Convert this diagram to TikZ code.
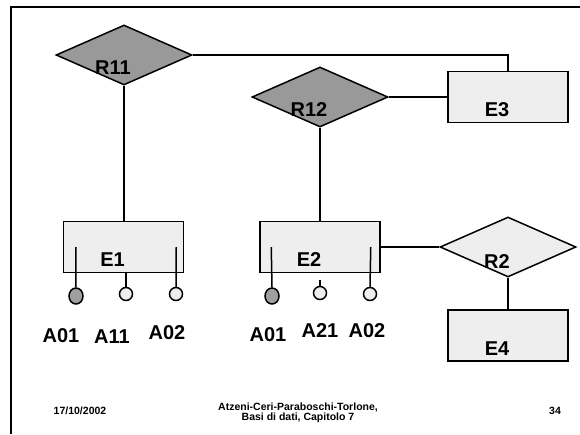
\documentclass[tikz,border=0pt]{standalone}
\usepackage{fontspec}
\setmainfont{Liberation Sans}
\usetikzlibrary{shapes.geometric}

\begin{document}
\begin{tikzpicture}[x=1pt, y=-1pt, line width=1.5pt,
    rel/.style={diamond, draw, minimum width=136pt, minimum height=60pt, inner sep=0pt},
    ent/.style={draw, fill=gray!13, minimum width=120pt, minimum height=51pt, inner sep=0pt},
    tag/.style={font=\fontsize{20}{20}\selectfont\bfseries, xshift=-11pt, yshift=-13pt},
    attr/.style={font=\fontsize{20}{20}\selectfont\bfseries},
    key/.style={ellipse, draw, fill=gray!75, minimum width=14pt, minimum height=16pt, inner sep=0pt},
    opt/.style={circle, draw, fill=gray!13, minimum size=13pt, inner sep=0pt},
    foot/.style={font=\fontsize{10.5}{10}\selectfont\bfseries, align=center}]
  \useasboundingbox (0,0) rectangle (580,434);

  % Slide frame
  \draw[line width=2pt] (580,7) -| (11,434);

  % Relationships
  \node[rel, fill=gray!80, label={[tag]center:R11}] (R11) at (124,55) {};
  \node[rel, fill=gray!80, label={[tag]center:R12}] (R12) at (320,97) {};
  \node[rel, fill=gray!13, label={[tag, yshift=-2pt]center:R2}] (R2) at (508,247) {};

  % Entities
  \node[ent, label={[tag]center:E1}] (E1) at (123.5,247) {};
  \node[ent, label={[tag]center:E2}] (E2) at (320,247) {};
  \node[ent, label={[tag]center:E3}] (E3) at (508,97) {};
  \node[ent, label={[tag]center:E4}] (E4) at (508,335.5) {};

  % Links
  \draw (R11.east) -| (E3.north);
  \draw (R11.south) -- (R11.south |- E1.north);
  \draw (R12.east) -- (E3.west);
  \draw (R12.south) -- (E2.north);
  \draw (E2.east) -- (R2.west);
  \draw (R2.south) -- (E4.north);

  % Attributes of E1
  \node[key] (k1) at (76,296) {};
  \node[opt] (o11) at (126,294) {};
  \node[opt] (o12) at (176,294) {};
  \draw ([xshift=13pt]E1.west) -- (k1.north);
  \draw ([xshift=2.5pt]E1.south) -- (o11.north);
  \draw ([xshift=-8pt]E1.east) -- (o12.north);
  \node[attr] (a01) at (61,336) {A01};
  \node[attr] (a11) at (112,337) {A11};
  \node[attr] (a02) at (167,333) {A02};

  % Attributes of E2
  \node[key] (k2) at (272,296) {};
  \node[opt] (o21) at (320,293) {};
  \node[opt] (o22) at (370,294) {};
  \draw ([xshift=12pt]E2.west) -- (k2.north);
  \draw ([yshift=-7pt]E2.south) -- (o21.north);
  \draw ([xshift=-10pt]E2.east) -- (o22.north);
  \node[attr] (b01) at (268,335) {A01};
  \node[attr] (b21) at (320,331) {A21};
  \node[attr] (b02) at (367,331) {A02};

  % Footer
  \node[foot] (date) at (80,411) {17/10/2002};
  \node[foot] (auth) at (298,413) {Atzeni-Ceri-Paraboschi-Torlone,\\Basi di dati, Capitolo 7};
  \node[foot] (page) at (555,411) {34};
\end{tikzpicture}
\end{document}
